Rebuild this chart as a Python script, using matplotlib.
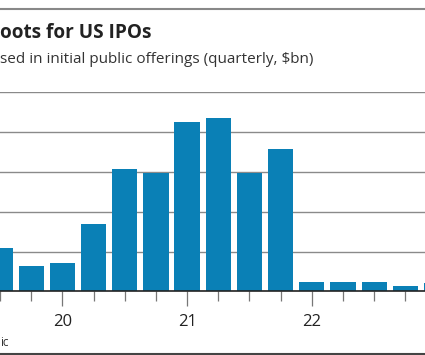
import matplotlib.pyplot as plt
from matplotlib.lines import Line2D

# quarterly IPO proceeds, $bn (2019 Q3 .. 2023 Q1, visible part of the chart)
quarters = ["2019Q3", "2019Q4",
            "2020Q1", "2020Q2", "2020Q3", "2020Q4",
            "2021Q1", "2021Q2", "2021Q3", "2021Q4",
            "2022Q1", "2022Q2", "2022Q3", "2022Q4",
            "2023Q1"]
proceeds = [10.9, 6.4, 7.2, 17.0, 30.7, 29.8, 42.6, 43.6, 29.8, 35.7,
            2.4, 2.3, 2.3, 1.4, 2.1]
year_labels = ["20", "21", "22"]
year_pos = [quarters.index("2020Q1"), quarters.index("2021Q1"), quarters.index("2022Q1")]

blue = "#0a80b6"
grid_col = "#8a8a8a"

fig = plt.figure(figsize=(4.25, 3.55), dpi=100)
ax = fig.add_axes([0, 0.1789, 1, 0.5619])

x = list(range(len(quarters)))
ax.bar(x, proceeds, width=0.81, color=blue, zorder=2)

ax.set_yticks([0, 10, 20, 30, 40, 50])
ax.yaxis.grid(True, color=grid_col, linewidth=1.0, zorder=0)
ax.tick_params(axis="y", left=False, labelleft=False)

ax.set_xticks(x, minor=True)
ax.set_xticks(year_pos)
ax.set_xticklabels(year_labels, fontsize=12, family="Open Sans", color="#222222")
ax.tick_params(axis="x", which="minor", length=7, width=0.9, color="#777777")
ax.tick_params(axis="x", which="major", length=11, width=0.9, color="#777777", pad=5)

# limits after the ticks, set_xticks would widen them
ax.set_xlim(0, 13.63)
ax.set_ylim(0, 50)

for s in ["top", "left", "right"]:
    ax.spines[s].set_visible(False)
ax.spines["bottom"].set_color("#222222")
ax.spines["bottom"].set_linewidth(1.2)
ax.spines["bottom"].set_zorder(3)

fig.text(0.0, 0.893, "oots for US IPOs", fontsize=13.7, fontweight="bold",
         family="Open Sans", color="#222222", va="baseline")
fig.text(0.0, 0.822, "sed in initial public offerings (quarterly, $bn)",
         fontsize=11, family="Open Sans", color="#333333", va="baseline")
fig.text(0.0, 0.025, "ic", fontsize=8.5, family="Open Sans", color="#333333", va="baseline")

fig.add_artist(Line2D([0, 1], [0.975, 0.975], color="#888888", linewidth=1.5))
fig.add_artist(Line2D([0, 1], [0.003, 0.003], color="#444444", linewidth=1.5))

fig.savefig("out.png", dpi=100)
